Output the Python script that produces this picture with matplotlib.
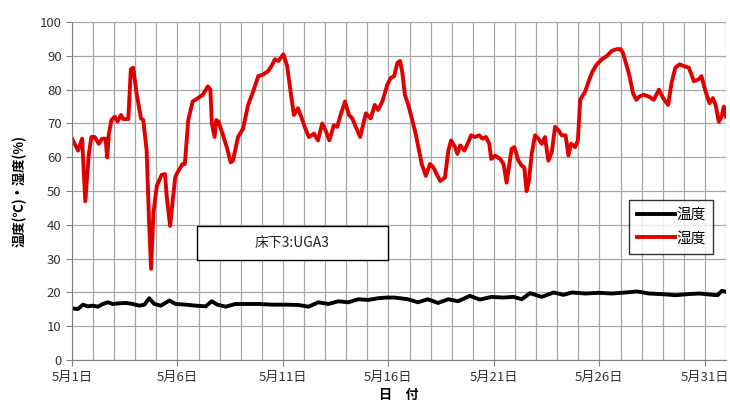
import matplotlib.pyplot as plt
from matplotlib.patches import Rectangle

plt.rcParams['font.family'] = ['Noto Sans CJK JP', 'DejaVu Sans']

# days since 5/1 and humidity (%)
hum_day = [0, 0.29, 0.48, 0.63, 0.8, 0.92, 1.08, 1.27, 1.43, 1.59, 1.67, 1.75, 1.87, 2.03,
           2.16, 2.32, 2.43, 2.67, 2.79, 2.9, 3.06, 3.27, 3.38, 3.54, 3.65, 3.75, 3.86, 4.02,
           4.25, 4.41, 4.49, 4.65, 4.89, 5.0, 5.24, 5.35, 5.51, 5.72, 5.97, 6.2, 6.44, 6.56,
           6.63, 6.76, 6.84, 6.95, 7.16, 7.36, 7.52, 7.63, 7.87, 8.11, 8.35, 8.59, 8.83, 9.06,
           9.3, 9.46, 9.62, 9.78, 10.02, 10.2, 10.36, 10.52, 10.71, 10.87, 11.03, 11.23, 11.47,
           11.66, 11.86, 12.02, 12.2, 12.41, 12.57, 12.73, 12.94, 13.13, 13.29, 13.45, 13.66,
           13.93, 14.16, 14.35, 14.51, 14.71, 14.95, 15.11, 15.27, 15.43, 15.55, 15.66, 15.78,
           15.94, 16.13, 16.29, 16.42, 16.58, 16.77, 16.97, 17.13, 17.29, 17.45, 17.68, 17.84,
           17.97, 18.16, 18.27, 18.4, 18.6, 18.79, 18.92, 19.11, 19.3, 19.46, 19.62, 19.78,
           19.87, 20.06, 20.3, 20.46, 20.6, 20.84, 20.97, 21.16, 21.32, 21.44, 21.55, 21.66,
           21.79, 21.95, 22.11, 22.27, 22.42, 22.58, 22.74, 22.9, 23.06, 23.21, 23.4, 23.53,
           23.66, 23.85, 23.98, 24.09, 24.33, 24.49, 24.68, 24.88, 25.12, 25.36, 25.59, 25.83,
           26.0, 26.11, 26.32, 26.43, 26.59, 26.75, 26.9, 27.1, 27.34, 27.58, 27.82, 27.98,
           28.13, 28.26, 28.42, 28.6, 28.8, 29.0, 29.24, 29.48, 29.69, 29.84, 30.03, 30.22,
           30.38, 30.51, 30.66, 30.79, 30.9, 31.0]
hum = [65.6, 62, 65.5, 47, 61, 66, 66, 64, 65.5, 65.5, 60, 67, 71, 72,
       70.6, 72.5, 71.3, 71.3, 86, 86.5, 79, 71.5, 71, 62, 41.5, 27, 43.5, 51.5,
       54.8, 55, 48.5, 39.7, 54, 55.5, 58, 58, 71, 76.5, 77.5, 78.5, 81, 80,
       70, 66, 71, 70.5, 66.5, 62.5, 58.5, 59, 66, 68.5, 75.5, 79.5, 84, 84.5,
       85.5, 87, 89, 88.5, 90.5, 87, 79.5, 72.5, 74.5, 72, 69, 66, 67,
       65, 70, 68, 65, 69.5, 69, 72.5, 76.5, 72.5, 71.5, 69, 66,
       73, 71.5, 75.5, 74, 76.5, 81.5, 83.5, 84, 88, 88.5, 85, 78.5,
       75.5, 71, 67, 63, 58, 54.5, 58, 57, 55, 53, 54, 62,
       65, 63, 61, 63.5, 62, 64.5, 66.5, 66, 66.5, 65.5, 66, 64,
       59.5, 60.5, 59.5, 58, 52.5, 62.5, 63, 59, 57.5, 57, 50, 53,
       61, 66.5, 65.5, 64, 66, 59, 61.5, 69, 68, 66.5, 66.5, 60.5,
       64, 63, 65, 77, 79.5, 82.5, 85.5, 87.5, 89, 90, 91.5, 92,
       92, 91, 86.5, 84, 79, 77, 78, 78.5, 78, 77, 80, 78,
       76.5, 75.5, 82, 86.5, 87.5, 87, 86.5, 82.5, 83, 84, 79.5, 76,
       77.5, 75.5, 70.5, 72, 75, 72]

# days since 5/1 and temperature (C)
temp_day = [0, 0.28, 0.52, 0.75, 0.99, 1.23, 1.46, 1.7, 1.93, 2.25, 2.56, 2.88, 3.19, 3.43,
            3.66, 3.9, 4.21, 4.61, 4.92, 5.39, 5.86, 6.34, 6.62, 6.89, 7.28, 7.75, 8.22, 8.85,
            9.48, 10.11, 10.74, 11.21, 11.68, 12.15, 12.63, 13.1, 13.57, 14.04, 14.51, 14.91,
            15.29, 15.92, 16.4, 16.87, 17.35, 17.83, 18.3, 18.86, 19.33, 19.89, 20.44, 20.92,
            21.32, 21.71, 22.27, 22.83, 23.3, 23.7, 24.33, 24.97, 25.6, 26.24, 26.79, 27.35,
            27.98, 28.62, 29.17, 29.73, 30.37, 30.6, 30.81, 31.0]
temp = [15.3, 15.1, 16.4, 15.9, 16.1, 15.8, 16.6, 17.1, 16.6, 16.8, 16.9, 16.6, 16.1, 16.4,
        18.3, 16.6, 16.1, 17.6, 16.6, 16.4, 16.1, 15.9, 17.4, 16.4, 15.8, 16.6, 16.6, 16.6,
        16.4, 16.4, 16.3, 15.8, 17.1, 16.6, 17.4, 17.1, 18.0, 17.8, 18.3, 18.5,
        18.5, 18.0, 17.1, 18.0, 16.9, 18.0, 17.4, 19.0, 17.9, 18.7, 18.5, 18.7,
        18.0, 19.8, 18.7, 20.0, 19.3, 20.0, 19.7, 19.9, 19.7, 20.0, 20.3, 19.7,
        19.5, 19.2, 19.5, 19.7, 19.3, 19.2, 20.5, 20.2]

tick_days = [0, 5, 10, 15, 20, 25, 30]
tick_labels = ['5月1日', '5月6日', '5月11日', '5月16日', '5月21日', '5月26日', '5月31日']

fig = plt.figure(figsize=(7.3, 4.12), dpi=100)
ax = fig.add_axes([0.0986, 0.126, 0.8959, 0.8204])

ax.plot(temp_day, temp, color='black', lw=2.8, label='温度')
ax.plot(hum_day, hum, color='#e00000', lw=2.8, label='湿度')

ax.set_xlim(0, 31)
ax.set_ylim(0, 100)
ax.set_yticks(range(0, 101, 10))
ax.set_xticks(tick_days)
ax.set_xticklabels(tick_labels)
ax.set_xticks(range(0, 32), minor=True)
ax.grid(True, which='both', color='#a8a8a8', lw=0.9)
ax.set_axisbelow(True)
ax.tick_params(axis='both', which='major', labelsize=9.5, color='#808080', length=4,
               labelcolor='#333333')
ax.tick_params(axis='x', which='minor', length=0)
for s in ['top', 'right']:
    ax.spines[s].set_visible(False)
for s in ['left', 'bottom']:
    ax.spines[s].set_color('#808080')

ax.set_ylabel('温度(℃)・湿度(%)', fontsize=9.5, fontweight='bold', labelpad=9)
ax.set_xlabel('日　付', fontsize=9.5, fontweight='bold', labelpad=3)

leg = ax.legend(loc='upper left', bbox_to_anchor=(0.84, 0.495), fontsize=10.5,
                frameon=True, fancybox=False, edgecolor='black', handlelength=2.6,
                handletextpad=0.1, borderpad=0.55, labelspacing=0.65)
leg.get_frame().set_linewidth(1.0)

ax.add_patch(Rectangle((0.191, 0.296), 0.292, 0.1, transform=ax.transAxes,
                       facecolor='white', edgecolor='black', lw=1.0, zorder=5))
ax.text(0.337, 0.346, '床下3:UGA3', transform=ax.transAxes, ha='center', va='center',
        fontsize=10, color='#222222', zorder=6)

fig.savefig('out.png', dpi=100)
